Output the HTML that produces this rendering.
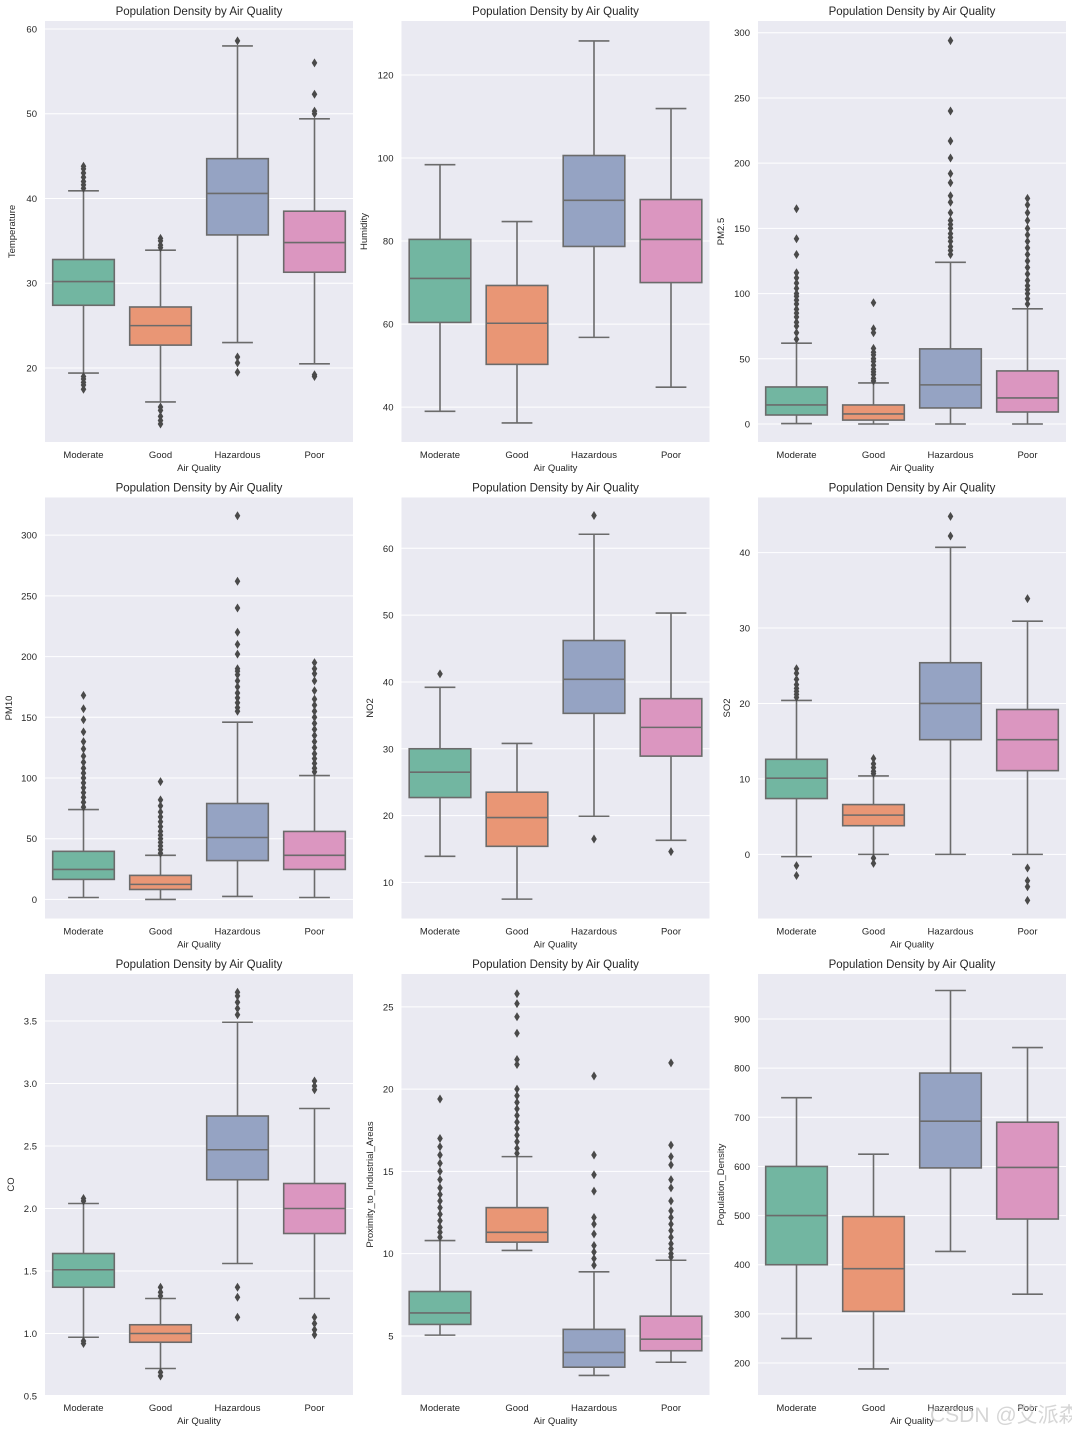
<!DOCTYPE html>
<html><head><meta charset="utf-8"><style>
html,body{margin:0;padding:0;background:#fff;}
svg text{font-family:"Liberation Sans","Noto Sans CJK SC",sans-serif;fill:#262626;}
</style></head><body>
<svg id="fig" width="1072" height="1432" xmlns="http://www.w3.org/2000/svg"></svg>
<script>
const categories = ["Moderate","Good","Hazardous","Poor"];
const colors = ["#72b6a1","#e99675","#95a3c3","#db96c0"];
// stats per category: [q1, median, q3, lowWhisker, highWhisker]
const temperatureStats = [[27.4,30.2,32.8,19.4,40.9],[22.7,25.0,27.2,16.0,33.9],[35.7,40.6,44.7,23.0,58.0],[31.3,34.8,38.5,20.5,49.4]];
const temperatureOutliers = [[41.2,41.6,42,42.5,43,43.5,43.8,17.5,18,18.3,18.7,19],[34.2,34.5,35,35.3,15.4,15,14.3,13.8,13.4],[58.6,21.3,20.6,19.5],[50,50.3,52.3,56.0,19.0,19.2]];
const temperatureTicks = [20,30,40,50,60];
const humidityStats = [[60.4,71,80.4,39,98.4],[50.3,60.2,69.3,36.2,84.7],[78.7,89.8,100.6,56.8,128.2],[70,80.4,90,44.8,111.9]];
const humidityOutliers = [[],[],[],[]];
const humidityTicks = [40,60,80,100,120];
const pm25Stats = [[6.9,14.6,28.4,0.3,62],[3,7.7,14.6,0,31.5],[12.3,30,57.6,0,124],[9.2,20,40.7,0,88.3]];
const pm25Outliers = [[65,70,75,78,82,85,88,92,95,98,100,104,108,112,116,130,142,165],[33,35,38,40,42,45,48,50,53,55,58,70,73,93],[130,133,136,140,143,146,150,153,156,162,170,175,185,192,204,217,240,294],[92,96,100,103,106,110,115,120,125,130,135,140,145,150,156,162,168,173]];
const pm25Ticks = [0,50,100,150,200,250,300];
const pm10Stats = [[16.5,24.7,39.6,1.6,74],[8.2,12.4,19.8,0,36.3],[32,51,79,2.5,146],[24.7,36.3,56,1.6,102]];
const pm10Outliers = [[76,80,84,88,92,96,100,104,108,113,118,124,130,138,148,157,168],[38,41,44,47,50,53,56,60,64,68,72,77,82,97],[155,158,162,166,170,175,180,185,188,190,202,210,220,240,262,316],[105,108,112,116,120,125,130,135,140,145,150,155,160,165,172,180,186,190,195]];
const pm10Ticks = [0,50,100,150,200,250,300];
const no2Stats = [[22.7,26.5,30,13.9,39.2],[15.4,19.7,23.5,7.5,30.8],[35.3,40.4,46.2,19.9,62.1],[28.9,33.2,37.5,16.3,50.3]];
const no2Outliers = [[41.2],[],[64.9,16.5],[14.6]];
const no2Ticks = [10,20,30,40,50,60];
const so2Stats = [[7.4,10.1,12.6,-0.3,20.4],[3.8,5.2,6.6,0,10.4],[15.2,20,25.4,0,40.7],[11.1,15.2,19.2,0,30.9]];
const so2Outliers = [[20.8,21.2,21.6,22,22.5,23.2,24,24.6,-1.5,-2.8],[10.7,11,11.5,12,12.7,-0.5,-1.2],[42.2,44.8],[33.9,-1.8,-3.5,-4.3,-6.1]];
const so2Ticks = [0,10,20,30,40];
const coStats = [[1.37,1.51,1.64,0.97,2.04],[0.93,1.0,1.07,0.72,1.28],[2.23,2.47,2.74,1.56,3.49],[1.8,2.0,2.2,1.28,2.8]];
const coOutliers = [[2.06,2.08,0.92,0.94],[1.3,1.33,1.37,0.69,0.66],[3.55,3.6,3.65,3.7,3.73,1.37,1.29,1.13],[2.95,2.98,3.02,1.13,1.08,1.03,0.99]];
const coTicks = [0.5,1.0,1.5,2.0,2.5,3.0,3.5];
const proxStats = [[5.7,6.4,7.7,5.05,10.8],[10.7,11.3,12.8,10.2,15.9],[3.1,4,5.4,2.6,8.9],[4.1,4.8,6.2,3.4,9.6]];
const proxOutliers = [[11,11.3,11.6,12,12.4,12.8,13.2,13.6,14,14.5,15,15.5,16,16.5,17,19.4],[16.1,16.4,16.8,17.2,17.6,18,18.4,18.8,19.2,19.6,20,21.5,21.8,23.4,24.4,25.2,25.8],[9.3,9.7,10.1,10.5,11.2,11.8,12.2,13.8,14.8,16,20.8],[9.8,10,10.3,10.6,11,11.4,11.8,12.2,12.6,13.2,14,14.5,15.4,15.9,16.6,21.6]];
const proxTicks = [5,10,15,20,25];
const popStats = [[400,500,600,250,740],[305,392,498,188,625],[597,692,790,427,958],[493,598,690,340,842]];
const popOutliers = [[],[],[],[]];
const popTicks = [200,300,400,500,600,700,800,900];

const panels = [
 {label:"Temperature",stats:temperatureStats,out:temperatureOutliers,ticks:temperatureTicks,dom:[11.27,60.94],col:0,row:0,lx:15,dec:0},
 {label:"Humidity",stats:humidityStats,out:humidityOutliers,ticks:humidityTicks,dom:[31.6,133],col:1,row:0,lx:367,dec:0},
 {label:"PM2.5",stats:pm25Stats,out:pm25Outliers,ticks:pm25Ticks,dom:[-13.8,309],col:2,row:0,lx:724,dec:0},
 {label:"PM10",stats:pm10Stats,out:pm10Outliers,ticks:pm10Ticks,dom:[-15.7,331],col:0,row:1,lx:12,dec:0},
 {label:"NO2",stats:no2Stats,out:no2Outliers,ticks:no2Ticks,dom:[4.6,67.6],col:1,row:1,lx:373,dec:0},
 {label:"SO2",stats:so2Stats,out:so2Outliers,ticks:so2Ticks,dom:[-8.5,47.3],col:2,row:1,lx:730,dec:0},
 {label:"CO",stats:coStats,out:coOutliers,ticks:coTicks,dom:[0.508,3.876],col:0,row:2,lx:14,dec:1},
 {label:"Proximity_to_Industrial_Areas",stats:proxStats,out:proxOutliers,ticks:proxTicks,dom:[1.41,27.0],col:1,row:2,lx:373,dec:0},
 {label:"Population_Density",stats:popStats,out:popOutliers,ticks:popTicks,dom:[134.9,991.6],col:2,row:2,lx:724,dec:0}
];
const NS="http://www.w3.org/2000/svg";
const svg=document.getElementById("fig");
function mk(tag,attrs,parent){const e=document.createElementNS(NS,tag);for(const k in attrs)e.setAttribute(k,attrs[k]);(parent||svg).appendChild(e);return e;}
const colX=[45,401.5,758], rowY=[21,497.5,974], PW=308, PH=421;
const LC="#6b6b6b";
panels.forEach(p=>{
  const x0=colX[p.col], y0=rowY[p.row];
  const g=mk("g",{});
  
  
  const ys=v=>y0+PH-(v-p.dom[0])/(p.dom[1]-p.dom[0])*PH;
  const band=PW/4;
  const xs=i=>x0+band*(i+0.5);
  const bg=mk("rect",{x:x0,y:y0,width:PW,height:PH,fill:"#eaeaf2"},g);
  
  
  p.ticks.forEach(t=>{
    const y=ys(t);
    const gl=mk("line",{x1:x0,x2:x0+PW,y1:y,y2:y,stroke:"#fff","stroke-width":1},g);
    
    
    const tl=mk("text",{x:x0-8,y:y+3.5,"font-size":"9.5","text-anchor":"end"},g);
    tl.textContent=p.dec?t.toFixed(1):String(t);
    
    
  });
  const t=mk("text",{x:x0+PW/2,y:y0-6,"font-size":"11.5","text-anchor":"middle"},g);
  t.textContent="Population Density by Air Quality";
  
  
  const xl=mk("text",{x:x0+PW/2,y:y0+PH+29,"font-size":"9.5","text-anchor":"middle"},g);
  xl.textContent="Air Quality";
  
  
  const cy=y0+PH/2;
  const yl=mk("text",{x:p.lx,y:cy,"font-size":"9.5","text-anchor":"middle",transform:`rotate(-90 ${p.lx} ${cy})`},g);
  yl.textContent=p.label;
  
  
  categories.forEach((c,i)=>{
    const cx=xs(i);
    const ct=mk("text",{x:cx,y:y0+PH+16,"font-size":"9.5","text-anchor":"middle"},g);
    ct.textContent=c;
    
    
    const s=p.stats[i];
    const bw=band*0.8, hw=bw/2, cw=bw/4;
    const bx=mk("g",{},g);
    
    
    mk("line",{x1:cx,x2:cx,y1:ys(s[2]),y2:ys(s[4]),stroke:LC,"stroke-width":1.6},bx);
    mk("line",{x1:cx,x2:cx,y1:ys(s[0]),y2:ys(s[3]),stroke:LC,"stroke-width":1.6},bx);
    mk("line",{x1:cx-cw,x2:cx+cw,y1:ys(s[4]),y2:ys(s[4]),stroke:LC,"stroke-width":1.6},bx);
    mk("line",{x1:cx-cw,x2:cx+cw,y1:ys(s[3]),y2:ys(s[3]),stroke:LC,"stroke-width":1.6},bx);
    mk("rect",{x:cx-hw,y:ys(s[2]),width:bw,height:ys(s[0])-ys(s[2]),fill:colors[i],stroke:LC,"stroke-width":1.6},bx);
    mk("line",{x1:cx-hw,x2:cx+hw,y1:ys(s[1]),y2:ys(s[1]),stroke:LC,"stroke-width":1.6},bx);
    p.out[i].forEach(v=>{
      const y=ys(v);
      const d=mk("path",{d:`M${cx} ${y-4.5}L${cx+2.8} ${y}L${cx} ${y+4.5}L${cx-2.8} ${y}Z`,fill:"#4a4a4a"},bx);
      
      
    });
  });
});
const wm=mk("text",{x:930,y:1422,"font-size":"21",fill:"#cfcfcf"});
wm.setAttribute("style","fill:rgba(200,200,200,0.75)");
wm.textContent="CSDN @艾派森";


</script>
</body></html>
